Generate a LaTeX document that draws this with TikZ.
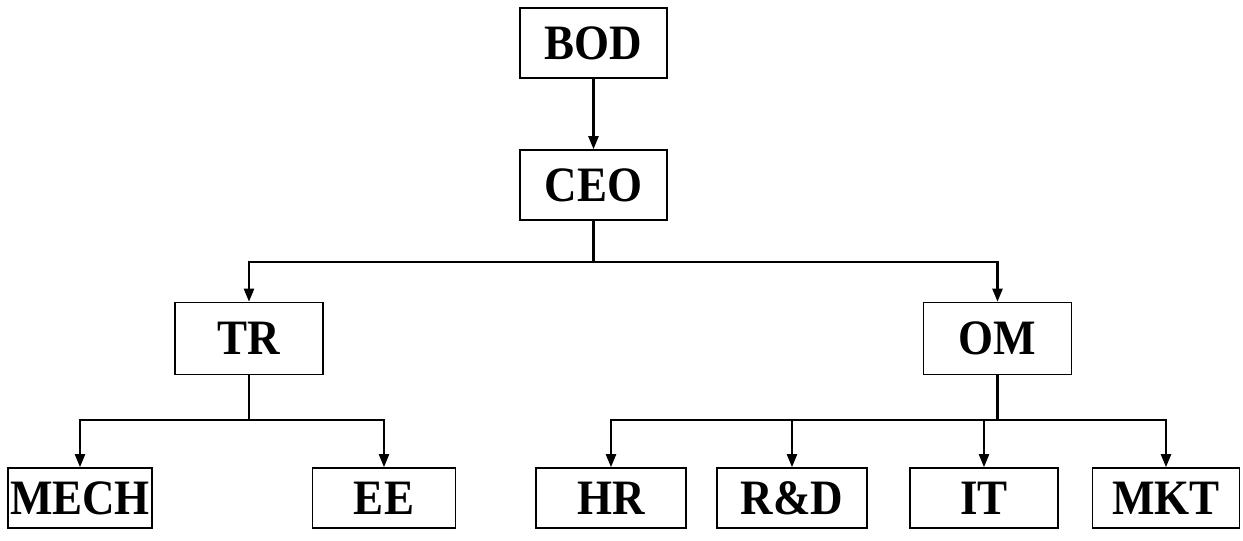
\documentclass[tikz,border=0pt]{standalone}
\usepackage{fontspec}
\setmainfont{Liberation Serif}
\usetikzlibrary{arrows.meta}
\newcommand{\tallt}[1]{\scalebox{1}[1.1]{#1}}
\tikzset{
  box/.style={draw, line width=1.6pt, inner sep=0pt, font=\bfseries\fontsize{45}{50}\selectfont},
  topbox/.style={box, minimum width=147pt, minimum height=70pt},
  midbox/.style={box, minimum width=148pt, minimum height=72pt},
  lowbox/.style={box, minimum width=147pt, minimum height=60pt},
  arr/.style={line width=2.3pt, -{Triangle[length=13pt,width=10pt]}},
  link/.style={line width=2.3pt},
}
\begin{document}
\begin{tikzpicture}[x=1pt,y=-1pt]
\useasboundingbox (0,0) rectangle (1243,541);
\node[topbox] (bod) at (593.5,43) {\tallt{BOD}};
\node[topbox] (ceo) at (593.5,185) {\tallt{CEO}};
\node[midbox] (tr) at (249,338.5) {\tallt{TR}};
\node[midbox] (om) at (997.5,338.5) {\tallt{OM}};
\node[lowbox, minimum width=144pt] (mech) at (80,498) {\tallt{MECH}};
\node[lowbox, minimum width=143pt] (ee) at (384,498) {\tallt{EE}};
\node[lowbox, minimum width=150pt] (hr) at (611,498) {\tallt{HR}};
\node[lowbox, minimum width=150pt] (rd) at (792,498) {\tallt{R\&D}};
\node[lowbox, minimum width=148pt] (it) at (984,498) {\tallt{IT}};
\node[lowbox, minimum width=147pt] (mkt) at (1166,498) {\tallt{MKT}};
\coordinate (j1) at (593.5,262);
\coordinate (j2) at (249,420);
\coordinate (j3) at (997.5,420);
\draw[arr] (bod) -- (ceo);
\draw[link] (ceo.south) -- (j1);
\draw[arr] (j1) -| (tr.north);
\draw[arr] (j1) -| (om.north);
\draw[link] (tr.south) -- (j2);
\draw[arr] (j2) -| (mech.north);
\draw[arr] (j2) -| (ee.north);
\draw[link] (om.south) -- (j3);
\draw[arr] (j3) -| (hr.north);
\draw[arr] (j3) -| (rd.north);
\draw[arr] (j3) -| (it.north);
\draw[arr] (j3) -| (mkt.north);
\end{tikzpicture}
\end{document}
